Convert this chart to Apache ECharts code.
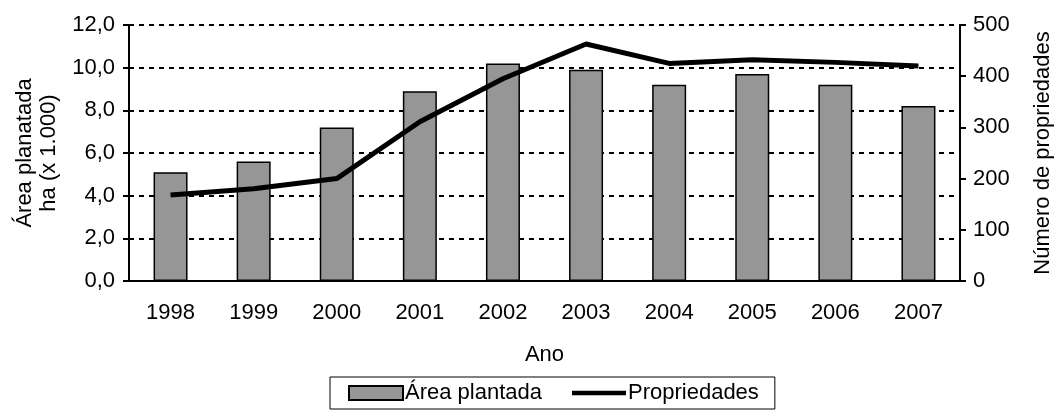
<!DOCTYPE html>
<html>
<head>
<meta charset="utf-8">
<script src="https://cdn.jsdelivr.net/npm/echarts@6/dist/echarts.min.js"></script>
<style>
  html, body { margin: 0; padding: 0; background: #fff; }
  #chart { width: 1054px; height: 414px; }
</style>
</head>
<body>
<div id="chart"></div>
<script>
// data
var anos = ['1998', '1999', '2000', '2001', '2002', '2003', '2004', '2005', '2006', '2007'];
var areaPlantada = [5.1, 5.6, 7.2, 8.9, 10.2, 9.9, 9.2, 9.7, 9.2, 8.2];
var propriedades = [168, 180, 200, 311, 395, 463, 425, 432, 427, 420];

var myChart = echarts.init(document.getElementById('chart'));
var fonte = 'Liberation Sans, Arial, sans-serif';
var fs = 22;

option = {
  animation: false,
  textStyle: { fontFamily: fonte, color: '#000' },
  grid: { left: 129, right: 94, top: 25, bottom: 133, outerBoundsMode: 'none', containLabel: false },
  legend: {
    bottom: 5,
    left: 330,
    data: [
      { name: 'Área plantada', icon: 'rect' },
      { name: 'Propriedades', icon: 'path://M0,0H60V5H0Z' }
    ],
    borderColor: '#000',
    borderWidth: 1,
    borderRadius: 0,
    padding: [5, 16, 5, 18],
    itemGap: 30,
    itemWidth: 54,
    itemHeight: 14,
    textStyle: { fontSize: fs, color: '#000', fontFamily: fonte, padding: [0, 0, 0, -3] }
  },
  xAxis: [{
    type: 'category',
    data: anos,
    name: 'Ano',
    nameLocation: 'middle',
    nameGap: 63,
    nameTextStyle: { fontSize: fs, color: '#000' },
    axisLine: { lineStyle: { color: '#000', width: 2 } },
    axisTick: { length: 6, lineStyle: { color: '#000', width: 2 } },
    axisLabel: { fontSize: fs, color: '#000', margin: 21 }
  }, {
    type: 'category',
    data: anos,
    position: 'top',
    axisLine: { lineStyle: { color: '#000', width: 2 } },
    axisTick: { show: false },
    axisLabel: { show: false }
  }],
  yAxis: [{
    type: 'value',
    min: 0,
    max: 12,
    interval: 2,
    name: 'Área planatada\nha (x 1.000)',
    nameLocation: 'middle',
    nameGap: 68,
    nameMoveOverlap: false,
    nameTextStyle: { fontSize: fs, color: '#000', lineHeight: 24 },
    axisLine: { show: true, lineStyle: { color: '#000', width: 2 } },
    axisTick: { show: true, length: 6, lineStyle: { color: '#000', width: 2 } },
    axisLabel: {
      fontSize: fs, color: '#000', margin: 14,
      formatter: function (v) { return v.toFixed(1).replace('.', ','); }
    },
    splitLine: { show: true, lineStyle: { color: '#000', width: 2, type: [5, 5] } }
  }, {
    type: 'value',
    min: 0,
    max: 500,
    interval: 100,
    position: 'right',
    name: 'Número de propriedades',
    nameLocation: 'middle',
    nameGap: 72,
    nameTextStyle: { fontSize: fs, color: '#000' },
    axisLine: { show: true, lineStyle: { color: '#000', width: 2 } },
    axisTick: { show: true, length: 6, lineStyle: { color: '#000', width: 2 } },
    axisLabel: { fontSize: fs, color: '#000', margin: 13 },
    splitLine: { show: false }
  }],
  series: [{
    name: 'Área plantada',
    type: 'bar',
    data: areaPlantada,
    barWidth: 34,
    itemStyle: { color: '#969696', borderColor: '#000', borderWidth: 1.5 }
  }, {
    name: 'Propriedades',
    type: 'line',
    yAxisIndex: 1,
    data: propriedades,
    symbol: 'none',
    lineStyle: { color: '#000', width: 5 },
    itemStyle: { color: '#000' }
  }]
};

myChart.setOption(option);
</script>
</body>
</html>
